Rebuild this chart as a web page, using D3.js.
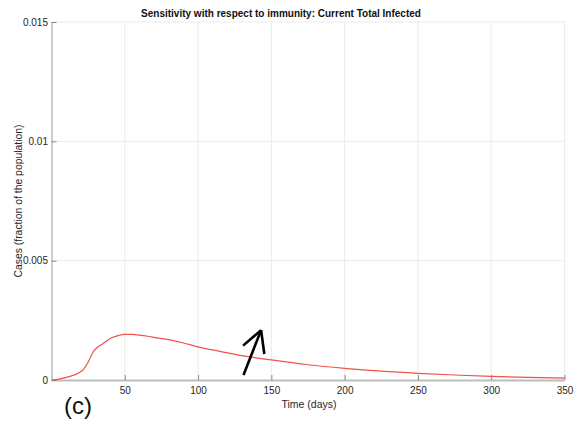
<!DOCTYPE html>
<html><head><meta charset="utf-8">
<script src="https://cdn.jsdelivr.net/npm/d3@7"></script>
<style>body{margin:0;background:#fff}text{font-family:"Liberation Sans",Arial,sans-serif}</style>
</head><body><svg id="c" width="574" height="423"></svg>
<script>
const days = [0,5,10,15,19,22,25,29,32,35,41,46,50,55,60,68,77,90,100,115,130,150,175,200,225,250,275,300,325,350];
const infected = [0,0.00004,0.00011,0.0002,0.00031,0.00046,0.00075,0.00123,0.0014,0.00152,0.00177,0.00187,0.00191,0.00191,0.00188,0.00181,0.00172,0.00155,0.00139,0.00120,0.00102,0.00084,0.00064,0.00049,0.00037,0.00028,0.00021,0.00015,0.00011,0.00008];
const xTicks = [50,100,150,200,250,300,350];
const yTicks = [0,0.005,0.01,0.015];
const yTickLabels = ["0","0.005","0.01","0.015"];
const arrowShaft = [[131,0.00021],[143,0.00209]];
const arrowWingL = [[130.7,0.00144],[143,0.00209]];
const arrowWingR = [[145.2,0.00109],[143,0.00209]];

const svg = d3.select("#c");
const x = d3.scaleLinear().domain([0,350]).range([51.5,564.5]);
const y = d3.scaleLinear().domain([0,0.015]).range([380,22]);
const grey = "#262626";

// grid
svg.append("g").selectAll("line").data(xTicks).join("line")
  .attr("x1",d=>x(d)).attr("x2",d=>x(d)).attr("y1",y(0)).attr("y2",y(0.015))
  .attr("stroke","#ebebeb").attr("stroke-width",1);
svg.append("g").selectAll("line").data(yTicks.slice(1)).join("line")
  .attr("x1",x(0)).attr("x2",x(350)).attr("y1",d=>y(d)).attr("y2",d=>y(d))
  .attr("stroke","#ebebeb").attr("stroke-width",1);

// axes
const xa = svg.append("g").attr("transform",`translate(0,${y(0)})`)
  .call(d3.axisBottom(x).tickValues(xTicks).tickSizeInner(-5).tickSizeOuter(0).tickPadding(7));
xa.select(".domain").attr("stroke","#bdbdbd").attr("stroke-width",2);
xa.selectAll(".tick line").attr("stroke","#888");
xa.selectAll("text").attr("font-size",10).attr("fill",grey).attr("font-family","Liberation Sans, Arial");

const ya = svg.append("g").attr("transform",`translate(${x(0)},0)`)
  .call(d3.axisLeft(y).tickValues(yTicks).tickFormat((d,i)=>yTickLabels[i]).tickSizeInner(-5).tickSizeOuter(0).tickPadding(3.5));
ya.select(".domain").attr("stroke","#999").attr("stroke-width",1);
ya.selectAll(".tick line").attr("stroke","#888");
ya.selectAll("text").attr("font-size",10).attr("fill",grey).attr("font-family","Liberation Sans, Arial");

// curve
svg.append("path").datum(days.map((d,i)=>[d,infected[i]]))
  .attr("d",d3.line().x(d=>x(d[0])).y(d=>y(d[1])).curve(d3.curveMonotoneX))
  .attr("fill","none").attr("stroke","#f0524a").attr("stroke-width",1.2);

// arrow annotation
const ln = d3.line().x(d=>x(d[0])).y(d=>y(d[1]));
[arrowShaft,arrowWingL,arrowWingR].forEach(p=>{
  svg.append("path").attr("d",ln(p)).attr("stroke","#000").attr("stroke-width",2.6)
    .attr("fill","none").attr("stroke-linecap","butt").attr("stroke-linejoin","miter");
});

// texts
svg.append("text").attr("x",281).attr("y",17).attr("text-anchor","middle")
  .attr("font-size",10).attr("font-weight","bold").attr("fill","#111")
  .text("Sensitivity with respect to immunity: Current Total Infected");
svg.append("text").attr("x",309).attr("y",407.5).attr("text-anchor","middle")
  .attr("font-size",10.5).attr("fill",grey).text("Time (days)");
svg.append("text").attr("transform","translate(22,201) rotate(-90)").attr("text-anchor","middle")
  .attr("font-size",10.4).attr("fill",grey).text("Cases (fraction of the population)");
svg.append("text").attr("x",64).attr("y",414).attr("font-size",24).attr("fill","#111").text("(c)");
</script></body></html>
